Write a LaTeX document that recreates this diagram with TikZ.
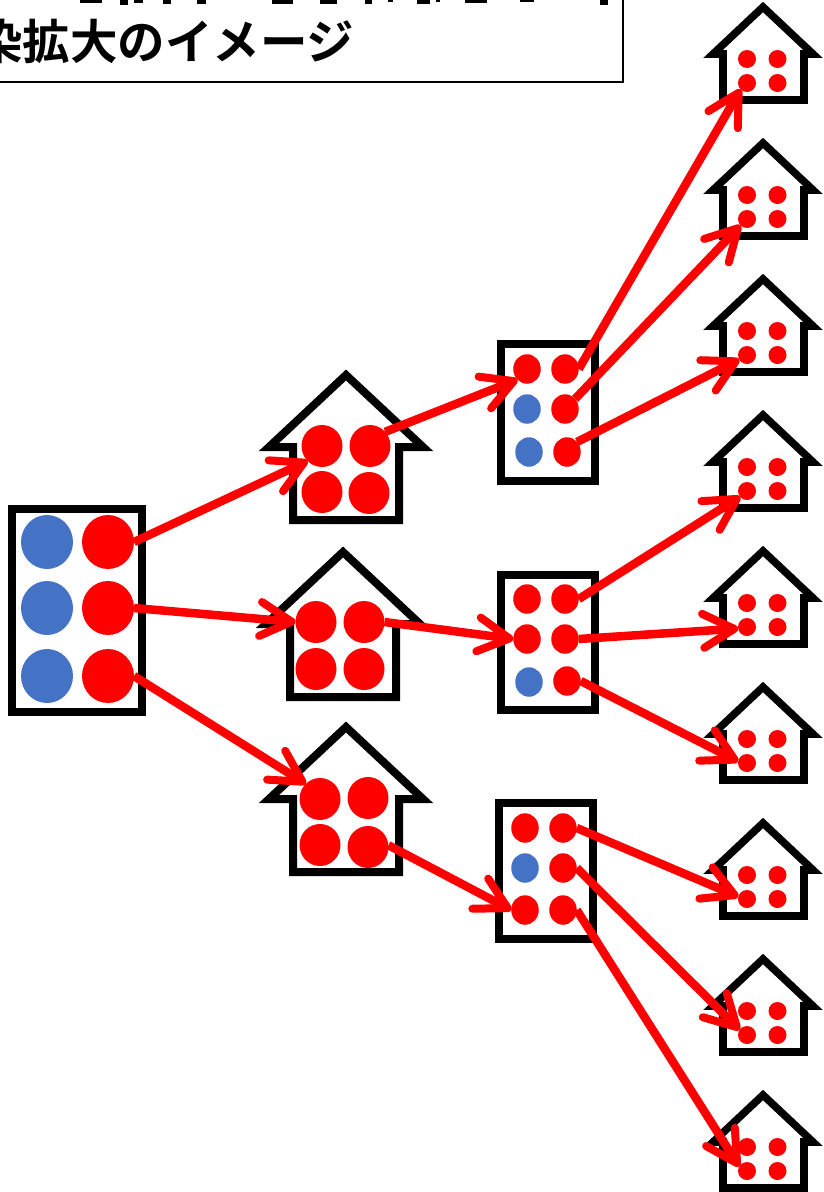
\documentclass[tikz,border=0pt]{standalone}
\usepackage{fontspec}
\newfontfamily\jpfont{Noto Sans CJK JP}[BoldFont={Noto Sans CJK JP Bold}]
\usetikzlibrary{arrows.meta,shapes.geometric}
\definecolor{dotred}{RGB}{255,0,0}
\definecolor{dotblue}{RGB}{68,114,196}
\tikzset{
  x=1pt,y=-1pt,
  frame/.style={draw=black,line width=8pt,fill=white,miter limit=10},
  sframe/.style={draw=black,line width=7.6pt,fill=white,miter limit=10},
  dot/.style={ellipse,fill=#1,inner sep=0pt,outer sep=0pt,minimum width=0pt},
  bigdot/.style={dot=#1,minimum width=52pt,minimum height=54pt},
  lhdot/.style={dot=dotred,minimum width=41pt,minimum height=42pt},
  middot/.style={dot=#1,minimum width=27.5pt,minimum height=29.5pt},
  shdot/.style={dot=dotred,minimum width=18pt,minimum height=18pt},
  arr/.style={draw=dotred,line width=8.5pt,line cap=butt,
    -{Straight Barb[length=31pt,width=34pt,round,line width=8pt]}},
}
\newcommand{\lhouse}[2]{% apex centre
  \draw[frame] (#1,#2) -- ++(77,72) -- ++(-24,0) -- ++(0,73) -- ++(-106,0) -- ++(0,-73) -- ++(-24,0) -- cycle;}
\newcommand{\shouse}[3]{% apex centre, name
  \draw[sframe] (#1,#2) -- ++(50,47) -- ++(-9,0) -- ++(0,46) -- ++(-81,0) -- ++(0,-46) -- ++(-10,0) -- cycle;
  \node[shdot] (#3a) at (747,#2+52) {};
  \node[shdot] (#3b) at (777.5,#2+52) {};
  \node[shdot] (#3c) at (747,#2+76) {};
  \node[shdot] (#3d) at (777.5,#2+76) {};}
\begin{document}
\begin{tikzpicture}
\useasboundingbox (0,0) rectangle (823,1192);
\clip (0,0) rectangle (823,1192);
\fill[white] (0,0) rectangle (823,1192);
% caption box
\draw[black,line width=1.5pt,fill=white] (-20,-60) rectangle (623,82);
\node[anchor=base west,inner sep=0pt,font=\jpfont\bfseries\fontsize{47.5}{47.5}\selectfont] (cap) at (-25,59) {染拡大のイメージ};
\foreach \xa/\xb/\yb in {80/102/2.5,120/128/4.7,134/143/2.5,163/171/3.5,197/206/3.5,272/293/3.5,320/337/4,365/372/4,388/393/1.5,417/430/3.5,436/440/2,465/487/2.5,520/534/2,600/608/5}
  \fill[black] (\xa,0) rectangle (\xb,\yb);
% big rectangle
\draw[frame] (11.5,509) rectangle (142,712);
\node[bigdot=dotblue] (b1) at (47,542) {};
\node[bigdot=dotred]  (r1) at (108,542) {};
\node[bigdot=dotblue] (b2) at (47,608) {};
\node[bigdot=dotred]  (r2) at (108,608) {};
\node[bigdot=dotblue] (b3) at (47,676) {};
\node[bigdot=dotred]  (r3) at (108,676) {};
% large houses
\lhouse{346}{375}
\node[lhdot] (ha1) at (322,446) {}; \node[lhdot] (ha2) at (370,446) {};
\node[lhdot] (ha3) at (322,492) {}; \node[lhdot] (ha4) at (369,493) {};
\lhouse{343}{552}
\node[lhdot] (hb1) at (316,622) {}; \node[lhdot] (hb2) at (364,622) {};
\node[lhdot] (hb3) at (316,669) {}; \node[lhdot] (hb4) at (364,669) {};
\lhouse{346}{727}
\node[lhdot] (hc1) at (320,799) {}; \node[lhdot] (hc2) at (368,798) {};
\node[lhdot] (hc3) at (320,845) {}; \node[lhdot] (hc4) at (368,847) {};
% middle rectangles
\draw[frame] (501,344) rectangle (595,481);
\node[middot=dotred]  (ma1) at (527,369) {}; \node[middot=dotred] (ma2) at (565,369) {};
\node[middot=dotblue] (ma3) at (527,409) {}; \node[middot=dotred] (ma4) at (565,409) {};
\node[middot=dotblue] (ma5) at (529,452) {}; \node[middot=dotred] (ma6) at (567,452) {};
\draw[frame] (501,575) rectangle (595,710);
\node[middot=dotred]  (mb1) at (527,599) {}; \node[middot=dotred] (mb2) at (565,599) {};
\node[middot=dotred]  (mb3) at (527,639) {}; \node[middot=dotred] (mb4) at (565,639) {};
\node[middot=dotblue] (mb5) at (529,682) {}; \node[middot=dotred] (mb6) at (567,681) {};
\draw[frame] (499,803) rectangle (593,939);
\node[middot=dotred]  (mc1) at (525,828) {}; \node[middot=dotred] (mc2) at (563,828) {};
\node[middot=dotblue] (mc3) at (525,868) {}; \node[middot=dotred] (mc4) at (563,868) {};
\node[middot=dotred]  (mc5) at (525,910) {}; \node[middot=dotred] (mc6) at (563,910) {};
% small houses
\shouse{763}{7}{sa}
\shouse{763}{143}{sb}
\shouse{763}{279}{sc}
\shouse{763}{415}{sd}
\shouse{763}{551}{se}
\shouse{763}{687}{sf}
\shouse{763}{823}{sg}
\shouse{763}{959}{sh}
\shouse{763}{1095}{si}
% connectors
\draw[arr] (r1.east) -- (ha1.226);
\draw[arr] (r2.east) -- (hb1.west);
\draw[arr] (r3.east) -- (hc1.133);
\draw[arr] (ha2.43) -- (ma1.228);
\draw[arr] (hb2.east) -- (mb3.west);
\draw[arr] (hc4.5) -- (mc5.west);
\draw[arr] (ma2.east) -- (sac.225);
\draw[arr] (ma4.45) -- (sbc.225);
\draw[arr] (ma6.45) -- (scc.210);
\draw[arr] (mb2.east) -- (sdc.220);
\draw[arr] (mb4.east) -- (sec.190);
\draw[arr] (mb6.east) -- (sfc.170);
\draw[arr] (mc2.east) -- (sgc.165);
\draw[arr] (mc4.east) -- (shc.145);
\draw[arr] (mc6.east) -- (sic.150);
\end{tikzpicture}
\end{document}
